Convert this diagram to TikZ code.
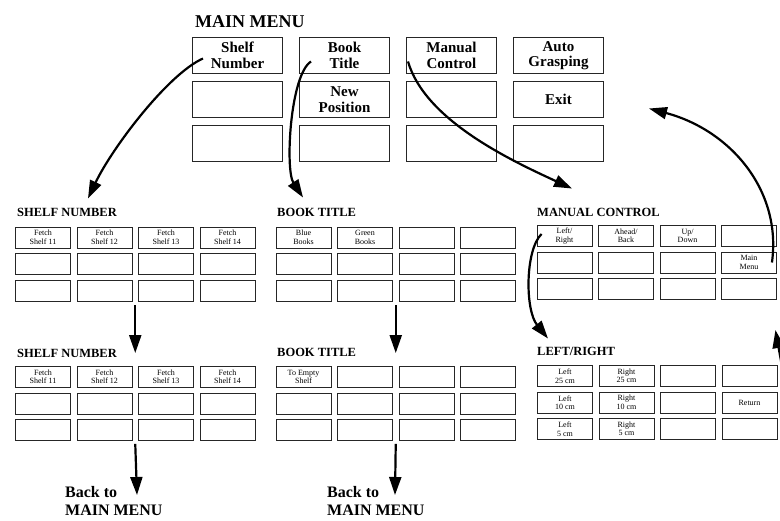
\documentclass[tikz,border=0pt]{standalone}
\usepackage{fontspec}
\setmainfont{Liberation Serif}
\usetikzlibrary{arrows.meta,calc}
\newcommand\drawpanel[4]{%
  \foreach \cc/\rr/\txt in {#4} {%
    \node[scell] (#1-\cc-\rr) at ({#2+(\cc-1)*61.5},{#3+(\rr-1)*26.5}) {\txt};
  }%
}
\begin{document}
\begin{tikzpicture}[x=1pt,y=-1pt,
  mcell/.style={draw=black!85, line width=1pt, minimum width=90pt, minimum height=36pt,
    inner sep=0pt, align=center, font=\fontsize{15}{15.5}\selectfont\bfseries},
  scell/.style={draw=black!85, line width=0.9pt, minimum width=55pt, minimum height=21pt,
    inner sep=0pt, align=center, font=\fontsize{8}{8.5}\selectfont},
  ptitle/.style={anchor=base west, inner sep=0pt, font=\fontsize{12.5}{13}\selectfont\bfseries},
  backlbl/.style={anchor=north west, inner sep=0pt, align=left, font=\fontsize{16}{18}\selectfont\bfseries},
  arr/.style={line width=2.2pt, -{Triangle[length=18pt,width=12pt]}},
]
\useasboundingbox (0,0) rectangle (780,521);

% ---------- main menu ----------
\node[anchor=base west, inner sep=0pt, font=\fontsize{18}{18}\selectfont\bfseries] (mmT) at (195,28) {MAIN MENU};
\foreach \cc/\rr/\txt in {1/1/{Shelf\\Number},2/1/{Book\\Title},3/1/{Manual\\Control},4/1/{Auto\\Grasping},
  1/2/{},2/2/{New\\Position},3/2/{},4/2/{Exit},
  1/3/{},2/3/{},3/3/{},4/3/{}} {%
  \node[mcell] (mm-\cc-\rr) at ({237.5+(\cc-1)*107},{55.5+(\rr-1)*44}) {\txt};
}

% ---------- sub panels ----------
\node[ptitle] (saT) at (17,217) {SHELF NUMBER};
\drawpanel{sa}{43}{237.5}{1/1/{Fetch\\Shelf 11},2/1/{Fetch\\Shelf 12},3/1/{Fetch\\Shelf 13},4/1/{Fetch\\Shelf 14},
  1/2/{},2/2/{},3/2/{},4/2/{},1/3/{},2/3/{},3/3/{},4/3/{}}

\node[ptitle] (sbT) at (17,358) {SHELF NUMBER};
\drawpanel{sb}{43}{377}{1/1/{Fetch\\Shelf 11},2/1/{Fetch\\Shelf 12},3/1/{Fetch\\Shelf 13},4/1/{Fetch\\Shelf 14},
  1/2/{},2/2/{},3/2/{},4/2/{},1/3/{},2/3/{},3/3/{},4/3/{}}

\node[ptitle] (baT) at (277,217) {BOOK TITLE};
\drawpanel{ba}{303.5}{237.5}{1/1/{Blue\\Books},2/1/{Green\\Books},3/1/{},4/1/{},
  1/2/{},2/2/{},3/2/{},4/2/{},1/3/{},2/3/{},3/3/{},4/3/{}}

\node[ptitle] (bbT) at (277,357) {BOOK TITLE};
\drawpanel{bb}{303.5}{377}{1/1/{To Empty\\Shelf},2/1/{},3/1/{},4/1/{},
  1/2/{},2/2/{},3/2/{},4/2/{},1/3/{},2/3/{},3/3/{},4/3/{}}

\node[ptitle] (maT) at (537,217) {MANUAL CONTROL};
\drawpanel{ma}{564.5}{236}{1/1/{Left/\\Right},2/1/{Ahead/\\Back},3/1/{Up/\\Down},4/1/{},
  1/2/{},2/2/{},3/2/{},4/2/{Main\\Menu},1/3/{},2/3/{},3/3/{},4/3/{}}

\node[ptitle] (laT) at (537,356) {LEFT/RIGHT};
\drawpanel{la}{565}{376}{1/1/{Left\\25 cm},2/1/{Right\\25 cm},3/1/{},4/1/{},
  1/2/{Left\\10 cm},2/2/{Right\\10 cm},3/2/{},4/2/{Return},
  1/3/{Left\\5 cm},2/3/{Right\\5 cm},3/3/{},4/3/{}}

% ---------- back labels ----------
\node[backlbl] (back1) at (65,486) {Back to\\MAIN MENU};
\node[backlbl] (back2) at (327,486) {Back to\\MAIN MENU};

% ---------- curved arrows ----------
\draw[arr] ($(mm-1-1.west)+(11,3)$) .. controls (168,74) and (112,148) .. ($(saT.north west)+(71,-10)$);
\draw[arr] ($(mm-2-1.west)+(12,6)$) .. controls (290,75) and (285,170) .. ($(baT.north west)+(26,-11)$);
\draw[arr] ($(mm-3-1.west)+(2,6)$) .. controls (425,120) and (510,160) .. ($(maT.north west)+(35,-20)$);
\draw[arr] ($(ma-4-2.east)+(-5,0)$) .. controls (782,190) and (730,130) .. ($(mm-4-2.east)+(45,9)$);
\draw[arr] ($(ma-1-1.west)+(5,-2)$) .. controls (525,250) and (525,310) .. ($(laT.north west)+(11,-9)$);
\coordinate (redge) at (783,372);
\draw[arr] (redge) -- ($(la-4-1.north east)+(-2,-35)$);

% ---------- straight arrows ----------
\draw[arr] ($(sa-2-3.south east)!0.5!(sa-3-3.south west)+(0,4)$) -- ($(sb-2-1.north east)!0.5!(sb-3-1.north west)+(0,-13)$);
\draw[arr] ($(sb-2-3.south east)!0.5!(sb-3-3.south west)+(0,3)$) -- ($(back1.north west)+(72,9)$);
\draw[arr] ($(ba-2-3.south east)!0.5!(ba-3-3.south west)+(0,4)$) -- ($(bb-2-1.north east)!0.5!(bb-3-1.north west)+(0,-13)$);
\draw[arr] ($(bb-2-3.south east)!0.5!(bb-3-3.south west)+(0,3)$) -- ($(back2.north west)+(68,9)$);
\end{tikzpicture}
\end{document}
